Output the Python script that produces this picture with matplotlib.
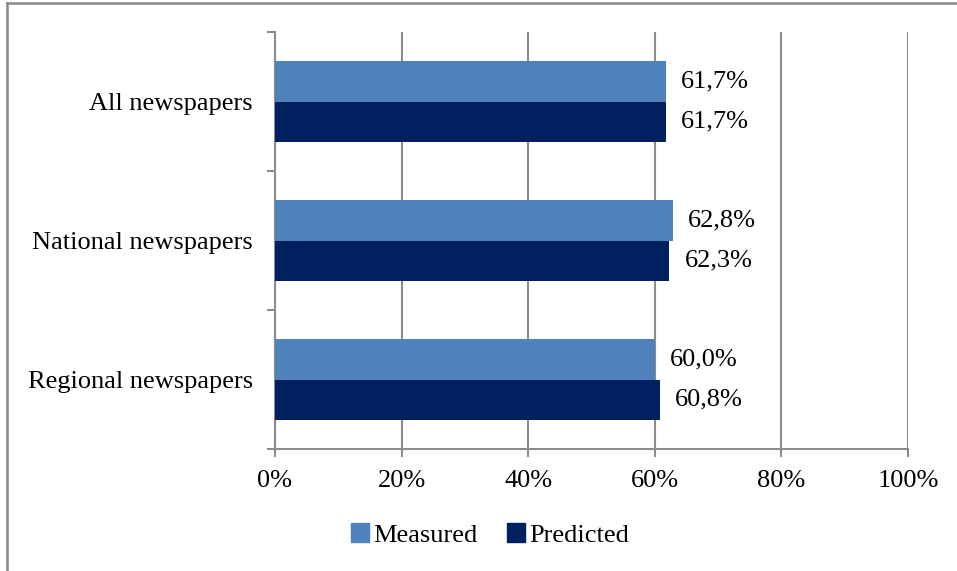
import matplotlib
matplotlib.use("Agg")
import matplotlib.pyplot as plt
from matplotlib.lines import Line2D
from matplotlib.patches import Patch
import numpy as np

categories = ["All newspapers", "National newspapers", "Regional newspapers"]
measured = [61.7, 62.8, 60.0]
predicted = [61.7, 62.3, 60.8]
xticks = [0, 20, 40, 60, 80, 100]
xticklabels = ["0%", "20%", "40%", "60%", "80%", "100%"]

plt.rcParams['font.family'] = ['Liberation Serif', 'DejaVu Serif']

W, H = 957, 571
FS = 19
fig = plt.figure(figsize=(W / 100, H / 100), dpi=100)
ax = fig.add_axes([275 / W, 1 - 449 / H, (908 - 275) / W, (449 - 32) / H])

c_meas = "#4F81BD"
c_pred = "#002060"
grid_c = "#8C8C8C"

n = len(categories)
ypos = np.arange(n)[::-1].astype(float)  # top category first
bh = 0.288
ax.barh(ypos + bh / 2, measured, height=bh, color=c_meas, zorder=3)
ax.barh(ypos - bh / 2, predicted, height=bh, color=c_pred, zorder=3)

for y, m, p in zip(ypos, measured, predicted):
    ax.annotate(f"{m:.1f}%".replace(".", ","), (m, y + bh / 2), xytext=(11, 0),
                textcoords="offset points", va="center", ha="left", fontsize=FS)
    ax.annotate(f"{p:.1f}%".replace(".", ","), (p, y - bh / 2), xytext=(11, 0),
                textcoords="offset points", va="center", ha="left", fontsize=FS)

ax.set_xlim(0, 100)
ax.set_ylim(-0.5, n - 0.5)
ax.set_xticks(xticks)
ax.set_xticklabels(xticklabels, fontsize=FS)
ax.set_yticks([-0.5 + i for i in range(n + 1)])
ax.set_yticklabels([])
ax.set_yticks(ypos, minor=True)
ax.set_yticklabels(categories, minor=True, fontsize=FS)
ax.tick_params(axis='y', which='minor', length=0, pad=16)
ax.tick_params(axis='y', which='major', length=6, color=grid_c, width=1.5, direction='out')
ax.tick_params(axis='x', length=6, color=grid_c, width=1.5, direction='out', pad=9)

ax.grid(axis='x', color=grid_c, linewidth=1.5, zorder=0)
for s in ['top', 'right']:
    ax.spines[s].set_visible(False)
ax.spines['left'].set_color(grid_c)
ax.spines['left'].set_linewidth(1.5)
ax.spines['bottom'].set_color(grid_c)
ax.spines['bottom'].set_linewidth(1.5)

handles = [Patch(color=c_meas, label="Measured"), Patch(color=c_pred, label="Predicted")]
fig.legend(handles=handles, loc='center', bbox_to_anchor=(490 / W, 1 - 535 / H), ncol=2,
           frameon=False, fontsize=FS, handlelength=0.7, handleheight=0.7,
           handletextpad=0.15, columnspacing=1.1)

# outer frame
fig.add_artist(Line2D([7 / W, 7 / W], [0, 1 - 3 / H], color="#888888", linewidth=1.8,
                      transform=fig.transFigure))
fig.add_artist(Line2D([7 / W, 1], [1 - 3 / H, 1 - 3 / H], color="#888888", linewidth=1.8,
                      transform=fig.transFigure))

fig.savefig("out.png", dpi=100)
